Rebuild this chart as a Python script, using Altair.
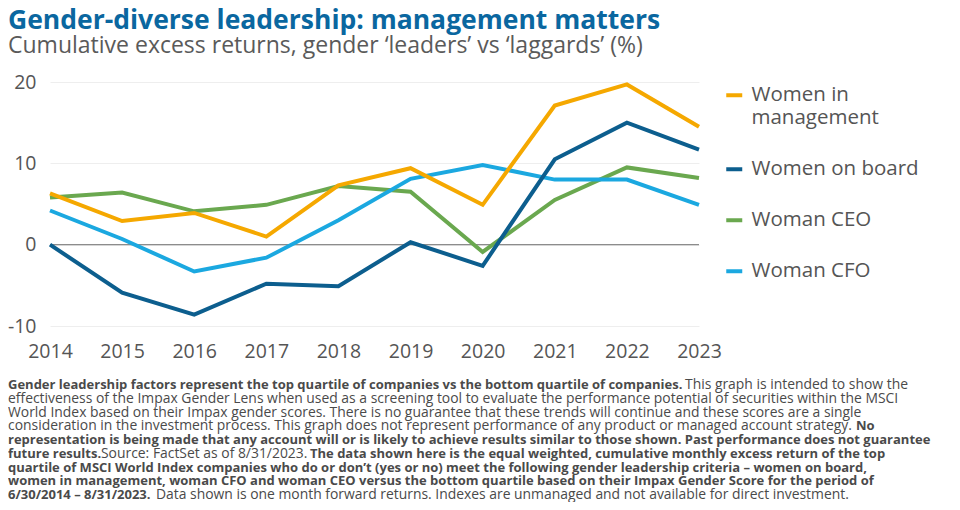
import altair as alt
import pandas as pd

# ---------------- data ----------------
years = [2014, 2015, 2016, 2017, 2018, 2019, 2020, 2021, 2022, 2023]
series_names = ["Women in management", "Women on board", "Woman CEO", "Woman CFO"]
women_in_management = [6.3, 2.9, 3.9, 1.0, 7.3, 9.4, 4.9, 17.1, 19.7, 14.5]
women_on_board = [0.0, -5.9, -8.6, -4.8, -5.1, 0.3, -2.6, 10.5, 15.0, 11.7]
woman_ceo = [5.8, 6.4, 4.1, 4.9, 7.2, 6.5, -0.9, 5.5, 9.5, 8.2]
woman_cfo = [4.2, 0.7, -3.3, -1.6, 3.0, 8.1, 9.8, 8.0, 8.0, 4.9]
y_ticks = [-10, 0, 10, 20]

title_text = "Gender-diverse leadership: management matters"
subtitle_text = "Cumulative excess returns, gender \u2018leaders\u2019 vs \u2018laggards\u2019 (%)"

# footnote segments: (line number, bold?, text)
footnote_segments = [
    (1, True, "Gender leadership factors represent the top quartile of companies vs the bottom quartile of companies."),
    (1, False, "This graph is intended to show the"),
    (2, False, "effectiveness of the Impax Gender Lens when used as a screening tool to evaluate the performance potential of securities within the MSCI"),
    (3, False, "World Index based on their Impax gender scores. There is no guarantee that these trends will continue and these scores are a single"),
    (4, False, "consideration in the investment process. This graph does not represent performance of any product or managed account strategy."),
    (4, True, "No"),
    (5, True, "representation is being made that any account will or is likely to achieve results similar to those shown. Past performance does not guarantee"),
    (6, True, "future results."),
    (6, False, "Source: FactSet as of 8/31/2023."),
    (6, True, "The data shown here is the equal weighted, cumulative monthly excess return of the top"),
    (7, True, "quartile of MSCI World Index companies who do or don\u2019t (yes or no) meet the following gender leadership criteria \u2013 women on board,"),
    (8, True, "women in management, woman CFO and woman CEO versus the bottom quartile based on their Impax Gender Score for the period of"),
    (9, True, "6/30/2014 \u2013 8/31/2023."),
    (9, False, "Data shown is one month forward returns. Indexes are unmanaged and not available for direct investment."),
]

# ---------------- layout / style ----------------
FONT = "Open Sans"
colors = ["#F5A800", "#0C5E8E", "#6AA84F", "#1BA8E0"]
PLOT_LEFT, PLOT_TOP = 50, 82            # page position of plot area
W, H = 649, 244
seg_x = [8, 685, 8, 8, 8, 856, 8, 8, 101, 310, 8, 8, 8, 156]   # page x of each footnote segment
line_y0, line_step = 389, 13.75
FOOT_REG, FOOT_BOLD = 13.9, 13.0

rows = []
for name, vals in [("Woman CEO", woman_ceo), ("Woman CFO", woman_cfo),
                   ("Women on board", women_on_board), ("Women in management", women_in_management)]:
    for yr, v in zip(years, vals):
        rows.append({"year": yr, "value": v, "series": name})
df = pd.DataFrame(rows)

x_enc = alt.X(
    "year:Q",
    scale=alt.Scale(domain=[years[0], years[-1]], nice=False, zero=False),
    axis=alt.Axis(values=years, format="d", title=None, grid=False, domain=False, ticks=False,
                  labelPadding=16, labelFontSize=19.5, labelColor="#555555", labelFont=FONT,
                  labelFlush=False),
)
y_enc = alt.Y(
    "value:Q",
    scale=alt.Scale(domain=[y_ticks[0], y_ticks[-1]], nice=False, zero=False),
    axis=alt.Axis(values=y_ticks, title=None, grid=True, gridColor="#eeeeee", gridWidth=1,
                  domain=False, ticks=False, labelPadding=14, labelFontSize=19.5,
                  labelColor="#555555", labelFont=FONT, labelExpr="'' + datum.value"),
)

lines = alt.Chart(df).mark_line(strokeWidth=4, strokeJoin="miter").encode(
    x=x_enc,
    y=y_enc,
    color=alt.Color(
        "series:N",
        scale=alt.Scale(domain=series_names, range=colors),
        legend=alt.Legend(
            title=None, orient="none", legendX=674, legendY=3,
            symbolType="stroke", symbolSize=256, symbolStrokeWidth=4,
            labelFontSize=20.5, labelColor="#555555", labelFont=FONT,
            labelOffset=7, rowPadding=30, labelLimit=400, padding=0,
            labelExpr="datum.label == 'Women in management' ? ['Women in', 'management'] : datum.label",
        ),
    ),
    detail="series:N",
)

zero = alt.Chart(pd.DataFrame({"z": [0]})).mark_rule(color="#8c8c8c", strokeWidth=1.2).encode(
    y="z:Q"
)


def text_layer(txt, px, py, size, color, weight="normal", font=FONT):
    return alt.Chart(pd.DataFrame({"t": [txt]})).mark_text(
        align="left", baseline="alphabetic", font=font, fontSize=size,
        fontWeight=weight, color=color,
    ).encode(x=alt.value(px - PLOT_LEFT), y=alt.value(py - PLOT_TOP), text="t:N")


layers = [zero, lines]
layers.append(text_layer(title_text, 8, 29, 26.5, "#0A67A0", "bold"))
layers.append(text_layer(subtitle_text, 8, 53, 23, "#5a5a5a"))
for (ln, bold, txt), sx in zip(footnote_segments, seg_x):
    layers.append(text_layer(txt, sx, line_y0 + (ln - 1) * line_step,
                             FOOT_BOLD if bold else FOOT_REG,
                             "#4a4a4a", "bold" if bold else "normal"))

chart = alt.layer(*layers).properties(
    width=W, height=H,
    autosize=alt.AutoSizeParams(type="none"),
    padding={"left": 42, "top": 74, "right": 253, "bottom": 176},
).configure_view(stroke=None)

chart.save("out.html", embed_options={"renderer": "svg", "actions": False})
